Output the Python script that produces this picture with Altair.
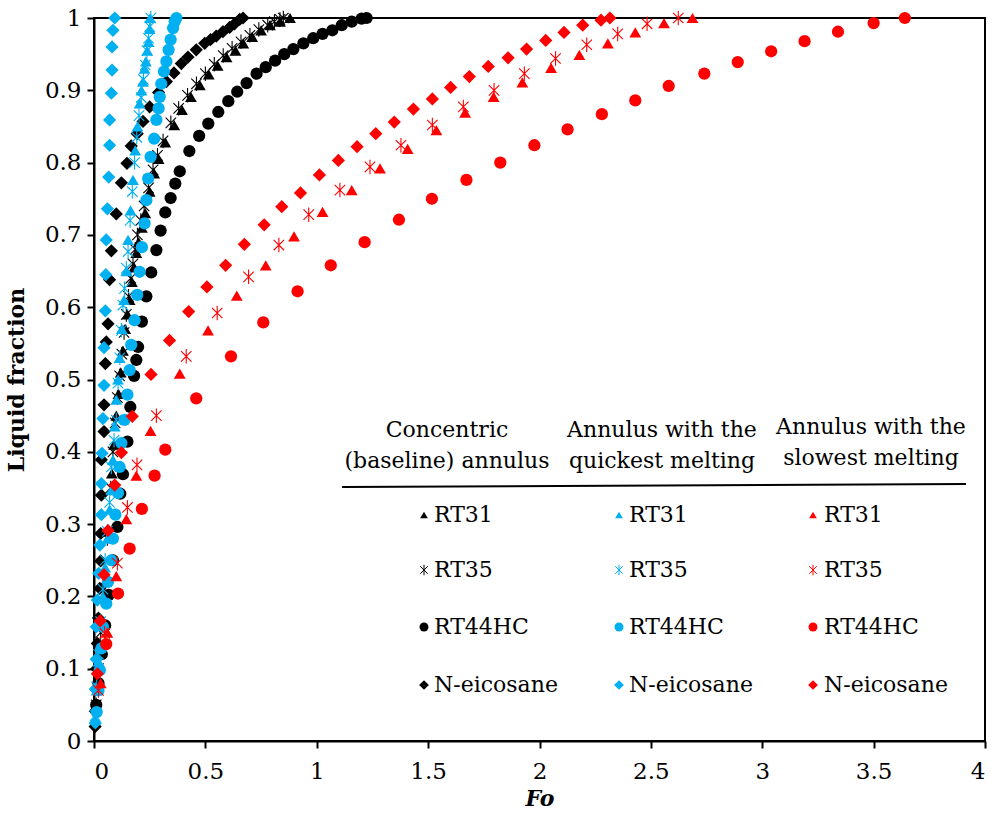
import altair as alt
import pandas as pd

# ---------------- data ----------------
# Concentric (baseline) annulus  -> black
fo_c_rt31 = [0.010,0.020,0.035,0.050,0.065,0.080,0.090,0.100,0.110,0.120,0.130,0.140,0.150,0.160,0.170,0.180,0.190,0.200,0.215,0.230,0.250,0.270,0.290,0.320,0.360,0.395,0.435,0.475,0.515,0.555,0.595,0.635,0.670,0.710,0.750,0.790,0.835,0.880]
lf_c_rt31 = [0.05,0.10,0.16,0.22,0.29,0.37,0.41,0.45,0.48,0.51,0.54,0.57,0.59,0.61,0.635,0.655,0.675,0.69,0.71,0.73,0.76,0.785,0.805,0.828,0.852,0.873,0.891,0.907,0.922,0.934,0.946,0.955,0.965,0.974,0.983,0.99,0.995,1.0]

fo_c_rt35 = [0.01,0.02,0.03,0.045,0.06,0.075,0.085,0.095,0.105,0.115,0.125,0.135,0.145,0.155,0.165,0.175,0.185,0.195,0.21,0.225,0.245,0.265,0.285,0.31,0.345,0.38,0.42,0.46,0.50,0.54,0.58,0.62,0.66,0.70,0.74,0.78,0.81,0.835,0.85]
lf_c_rt35 = [0.05,0.10,0.15,0.21,0.28,0.35,0.40,0.44,0.475,0.505,0.535,0.565,0.59,0.615,0.64,0.66,0.68,0.70,0.72,0.74,0.765,0.79,0.81,0.83,0.855,0.875,0.893,0.909,0.923,0.936,0.948,0.958,0.967,0.976,0.984,0.99,0.995,0.998,1.0]

fo_c_rt44 = [0.010,0.020,0.035,0.050,0.066,0.085,0.105,0.118,0.130,0.150,0.163,0.180,0.190,0.198,0.215,0.235,0.257,0.280,0.299,0.320,0.344,0.365,0.385,0.428,0.472,0.513,0.558,0.603,0.643,0.685,0.730,0.771,0.813,0.854,0.895,0.940,0.984,1.026,1.070,1.112,1.157,1.201,1.224]
lf_c_rt44 = [0.05,0.08,0.12,0.16,0.202,0.25,0.296,0.342,0.369,0.414,0.462,0.505,0.527,0.545,0.580,0.615,0.648,0.679,0.706,0.731,0.751,0.771,0.788,0.816,0.837,0.854,0.870,0.885,0.898,0.910,0.923,0.932,0.941,0.950,0.957,0.965,0.972,0.978,0.983,0.990,0.995,0.999,1.0]

fo_c_neic = [0.005,0.006,0.010,0.012,0.015,0.020,0.026,0.030,0.030,0.033,0.033,0.045,0.045,0.051,0.055,0.063,0.070,0.078,0.100,0.123,0.148,0.167,0.194,0.220,0.250,0.290,0.325,0.359,0.392,0.422,0.459,0.497,0.523,0.549,0.579,0.609,0.631,0.654,0.669]
lf_c_neic = [0.02,0.041,0.071,0.10,0.135,0.17,0.211,0.249,0.287,0.340,0.389,0.428,0.465,0.522,0.552,0.577,0.638,0.678,0.729,0.772,0.799,0.823,0.840,0.857,0.877,0.897,0.912,0.924,0.937,0.946,0.956,0.965,0.970,0.975,0.981,0.987,0.992,0.998,1.0]

# Annulus with the quickest melting -> blue
fo_q_rt31 = [0.005,0.012,0.02,0.03,0.04,0.05,0.06,0.07,0.078,0.085,0.093,0.1,0.108,0.115,0.125,0.135,0.145,0.153,0.164,0.175,0.185,0.195,0.205,0.213,0.220,0.227,0.233,0.239,0.245,0.25,0.252]
lf_q_rt31 = [0.03,0.07,0.11,0.16,0.20,0.24,0.28,0.32,0.347,0.389,0.435,0.472,0.50,0.53,0.57,0.61,0.65,0.693,0.734,0.776,0.817,0.85,0.882,0.90,0.912,0.93,0.94,0.955,0.967,0.985,1.0]

fo_q_rt35 = [0.005,0.012,0.02,0.03,0.04,0.05,0.06,0.07,0.078,0.09,0.1,0.108,0.116,0.123,0.13,0.137,0.145,0.153,0.162,0.172,0.182,0.192,0.202,0.212,0.222,0.23,0.238,0.245,0.25,0.255]
lf_q_rt35 = [0.035,0.075,0.12,0.165,0.21,0.25,0.29,0.33,0.379,0.416,0.444,0.495,0.53,0.568,0.603,0.626,0.654,0.677,0.72,0.76,0.80,0.835,0.865,0.89,0.915,0.935,0.955,0.972,0.988,1.0]

fo_q_rt44 = [0.012,0.020,0.026,0.033,0.040,0.055,0.063,0.078,0.085,0.096,0.108,0.115,0.123,0.137,0.150,0.160,0.167,0.182,0.194,0.205,0.215,0.227,0.235,0.243,0.254,0.270,0.280,0.290,0.295,0.302,0.314,0.325,0.335,0.344,0.355,0.362,0.370]
lf_q_rt44 = [0.04,0.07,0.098,0.128,0.158,0.190,0.220,0.250,0.280,0.313,0.343,0.379,0.412,0.444,0.479,0.513,0.548,0.582,0.617,0.649,0.683,0.716,0.748,0.778,0.808,0.833,0.859,0.875,0.891,0.909,0.926,0.940,0.956,0.970,0.986,0.995,1.0]

fo_q_neic = [0.006,0.006,0.010,0.010,0.015,0.021,0.026,0.033,0.033,0.036,0.040,0.045,0.045,0.051,0.053,0.055,0.060,0.066,0.070,0.070,0.078,0.081,0.081,0.085,0.093]
lf_q_neic = [0.025,0.072,0.113,0.158,0.195,0.232,0.271,0.313,0.356,0.398,0.446,0.492,0.544,0.595,0.645,0.693,0.736,0.780,0.824,0.859,0.896,0.928,0.960,0.983,1.0]

# Annulus with the slowest melting -> red
fo_s_rt31 = [0.03,0.06,0.100,0.145,0.190,0.254,0.385,0.512,0.641,0.771,0.898,1.026,1.157,1.284,1.408,1.537,1.666,1.794,1.923,2.052,2.179,2.307,2.430,2.559,2.687]
lf_s_rt31 = [0.08,0.15,0.228,0.307,0.367,0.429,0.508,0.568,0.616,0.658,0.698,0.732,0.762,0.792,0.819,0.845,0.869,0.891,0.911,0.931,0.949,0.965,0.980,0.993,1.0]

fo_s_rt35 = [0.02,0.048,0.105,0.150,0.193,0.280,0.414,0.553,0.694,0.830,0.964,1.104,1.239,1.378,1.519,1.658,1.796,1.932,2.072,2.212,2.351,2.483,2.623]
lf_s_rt35 = [0.07,0.149,0.246,0.323,0.382,0.450,0.532,0.592,0.642,0.686,0.728,0.762,0.794,0.824,0.852,0.877,0.900,0.923,0.944,0.963,0.978,0.992,1.0]

fo_s_rt44 = [0.055,0.108,0.160,0.215,0.272,0.320,0.459,0.615,0.760,0.914,1.063,1.215,1.369,1.517,1.672,1.824,1.977,2.126,2.28,2.43,2.58,2.74,2.89,3.04,3.19,3.34,3.50,3.64]
lf_s_rt44 = [0.134,0.204,0.266,0.321,0.367,0.403,0.474,0.532,0.579,0.622,0.658,0.690,0.721,0.750,0.776,0.800,0.824,0.846,0.867,0.886,0.906,0.923,0.939,0.954,0.968,0.981,0.993,1.0]

fo_s_neic = [0.015,0.028,0.045,0.063,0.093,0.123,0.172,0.256,0.339,0.425,0.507,0.591,0.675,0.764,0.843,0.927,1.012,1.097,1.181,1.265,1.348,1.434,1.519,1.601,1.685,1.770,1.859,1.942,2.028,2.110,2.194,2.276,2.316]
lf_s_neic = [0.093,0.166,0.23,0.291,0.354,0.399,0.449,0.507,0.554,0.594,0.628,0.658,0.687,0.714,0.739,0.758,0.783,0.803,0.822,0.840,0.856,0.874,0.888,0.904,0.919,0.933,0.945,0.957,0.969,0.980,0.990,0.997,1.0]

configs = ["Concentric", "Quickest", "Slowest"]
materials = ["RT31", "RT35", "RT44HC", "N-eicosane"]
headers = [["Concentric", "(baseline) annulus"],
           ["Annulus with the", "quickest melting"],
           ["Annulus with the", "slowest melting"]]
x_ticks = [0, 0.5, 1, 1.5, 2, 2.5, 3, 3.5, 4]
y_ticks = [0, 0.1, 0.2, 0.3, 0.4, 0.5, 0.6, 0.7, 0.8, 0.9, 1]

series = {
    ("Concentric", "RT31"): (fo_c_rt31, lf_c_rt31),
    ("Concentric", "RT35"): (fo_c_rt35, lf_c_rt35),
    ("Concentric", "RT44HC"): (fo_c_rt44, lf_c_rt44),
    ("Concentric", "N-eicosane"): (fo_c_neic, lf_c_neic),
    ("Quickest", "RT31"): (fo_q_rt31, lf_q_rt31),
    ("Quickest", "RT35"): (fo_q_rt35, lf_q_rt35),
    ("Quickest", "RT44HC"): (fo_q_rt44, lf_q_rt44),
    ("Quickest", "N-eicosane"): (fo_q_neic, lf_q_neic),
    ("Slowest", "RT31"): (fo_s_rt31, lf_s_rt31),
    ("Slowest", "RT35"): (fo_s_rt35, lf_s_rt35),
    ("Slowest", "RT44HC"): (fo_s_rt44, lf_s_rt44),
    ("Slowest", "N-eicosane"): (fo_s_neic, lf_s_neic),
}

# ---------------- styles ----------------
FONT = "DejaVu Serif"
colors = {"Concentric": "#000000", "Quickest": "#00B0F0", "Slowest": "#FF0000"}
STAR = "M0,-1L0,1M-0.72,-0.72L0.72,0.72M-0.72,0.72L0.72,-0.72"
shapes = {"RT31": "triangle-up", "RT35": STAR, "RT44HC": "circle", "N-eicosane": "diamond"}
sizes = {"RT31": 140, "RT35": 210, "RT44HC": 150, "N-eicosane": 175}
leg_sizes = {"RT31": 60, "RT35": 110, "RT44HC": 80, "N-eicosane": 95}

xscale = alt.Scale(domain=[0, 4], nice=False, zero=False)
yscale = alt.Scale(domain=[0, 1], nice=False, zero=False)
xaxis = alt.Axis(values=x_ticks, format="~g", title="Fo", grid=False, labelPadding=12,
                 titleFontStyle="italic", titleFontWeight="bold", titlePadding=5)
yaxis = alt.Axis(values=y_ticks, format=".1~f", title="Liquid fraction", grid=False,
                 titleFontWeight="bold", titlePadding=16)

layers = []
for cfg in configs:
    for mat in materials:
        fo, lf = series[(cfg, mat)]
        df = pd.DataFrame({"Fo": fo, "LF": lf})
        if mat == "RT35":
            mk = alt.Chart(df).mark_point(shape=shapes[mat], size=sizes[mat], filled=False,
                                          color=colors[cfg], opacity=1, strokeWidth=1.1)
        else:
            mk = alt.Chart(df).mark_point(shape=shapes[mat], size=sizes[mat], filled=True,
                                          color=colors[cfg], opacity=1, strokeWidth=0)
        layers.append(mk.encode(
            x=alt.X("Fo:Q", scale=xscale, axis=xaxis),
            y=alt.Y("LF:Q", scale=yscale, axis=yaxis),
        ))

# ---------------- table-style legend (pixel positions inside plot) ----------------
one = pd.DataFrame({"k": [0]})
col_center = [353, 568, 777]
col_head_y = [[412, 443], [412, 443], [409, 440]]
col_sym_x = [330, 525, 719]
col_txt_x = [340, 535, 730]
row_y = [497, 552, 609, 667]

for c in range(3):
    for li, line in enumerate(headers[c]):
        layers.append(alt.Chart(one).mark_text(
            text=line, font=FONT, fontSize=22, align="center", baseline="middle", color="black"
        ).encode(x=alt.value(col_center[c]), y=alt.value(col_head_y[c][li])))

layers.append(alt.Chart(one).mark_rule(color="black", strokeWidth=2).encode(
    x=alt.value(248), x2=alt.value(872), y=alt.value(469), y2=alt.value(466)))

for c, cfg in enumerate(configs):
    for r, mat in enumerate(materials):
        if mat == "RT35":
            sm = alt.Chart(one).mark_point(shape=shapes[mat], size=leg_sizes[mat], filled=False,
                                           color=colors[cfg], opacity=1, strokeWidth=1)
        else:
            sm = alt.Chart(one).mark_point(shape=shapes[mat], size=leg_sizes[mat], filled=True,
                                           color=colors[cfg], opacity=1, strokeWidth=0)
        layers.append(sm.encode(x=alt.value(col_sym_x[c]), y=alt.value(row_y[r])))
        layers.append(alt.Chart(one).mark_text(
            text=mat, font=FONT, fontSize=22, align="left", baseline="middle", color="black"
        ).encode(x=alt.value(col_txt_x[c]), y=alt.value(row_y[r])))

chart = alt.layer(*layers).properties(
    width=891, height=723,
    autosize=alt.AutoSizeParams(type="none"),
    padding={"left": 94, "top": 18, "right": 7, "bottom": 76},
    background="white",
).configure_view(
    stroke="black", strokeWidth=2
).configure_axis(
    domainColor="black", domainWidth=2, tickColor="black", tickWidth=2, tickSize=7,
    labelFont=FONT, labelFontSize=23, labelColor="black", labelPadding=6,
    titleFont=FONT, titleFontSize=22, titleColor="black",
)

chart.save("out.html", embed_options={"renderer": "svg", "actions": False})
